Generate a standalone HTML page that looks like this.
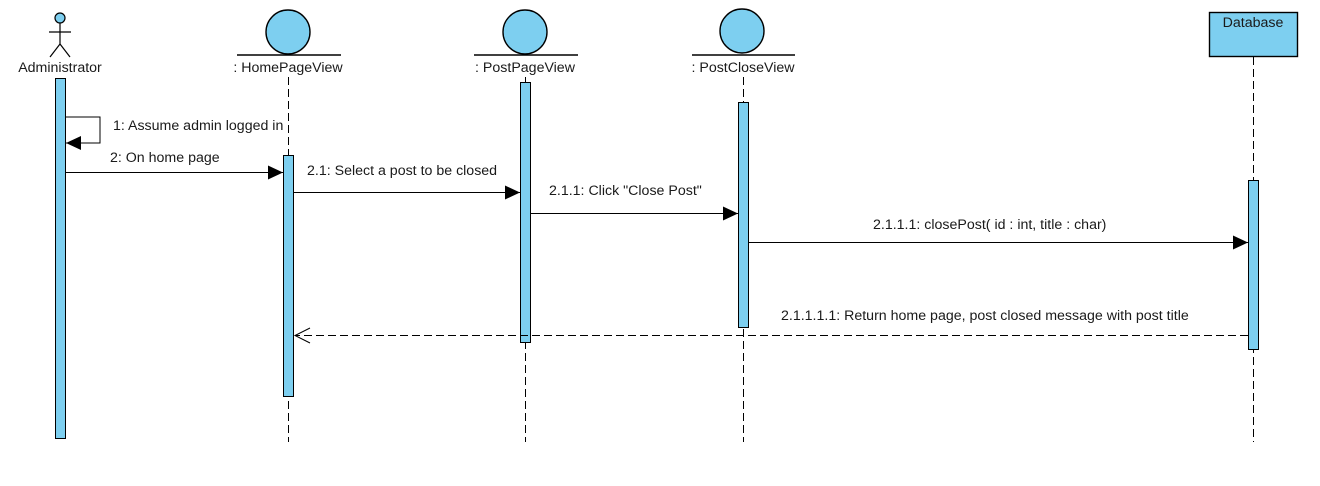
<!DOCTYPE html>
<html><head><meta charset="utf-8"><style>
html,body{margin:0;padding:0;background:#fff;width:1320px;height:486px;overflow:hidden}
svg text{font-family:"Liberation Sans",Arial,sans-serif;font-size:14.2px;fill:#1a1a1a}
</style></head><body>
<svg width="1320" height="486" xmlns="http://www.w3.org/2000/svg">
<defs>
<marker id="f" markerWidth="16" markerHeight="14" refX="15" refY="7" orient="auto" markerUnits="userSpaceOnUse"><path d="M0,0 L15,7 L0,14 Z" fill="#000"/></marker>
</defs>
<g stroke="#000" stroke-width="1" fill="none" stroke-dasharray="8,4">
<line x1="288.5" y1="77" x2="288.5" y2="442"/>
<line x1="525.5" y1="77" x2="525.5" y2="442"/>
<line x1="743.5" y1="77" x2="743.5" y2="442"/>
<line x1="1253.5" y1="57" x2="1253.5" y2="442"/>
</g>
<g stroke="#000" stroke-width="1.2" fill="none">
<circle cx="60" cy="18" r="5" fill="#7dcff0"/>
<line x1="60" y1="23" x2="60" y2="44"/>
<line x1="49" y1="32" x2="71" y2="32"/>
<line x1="60" y1="44" x2="50" y2="57"/>
<line x1="60" y1="44" x2="70" y2="57"/>
</g>
<text x="60" y="72" text-anchor="middle">Administrator</text>
<g stroke="#000" stroke-width="1.4" fill="#7dcff0">
<circle cx="288" cy="32" r="22"/>
<circle cx="525" cy="32" r="22"/>
<circle cx="742" cy="31" r="22"/>
<line x1="237" y1="55" x2="341" y2="55"/>
<line x1="474" y1="55" x2="578" y2="55"/>
<line x1="692" y1="55" x2="795" y2="55"/>
<rect x="1209.5" y="12.5" width="88" height="44"/>
</g>
<text x="288" y="72" text-anchor="middle">: HomePageView</text>
<text x="525" y="72" text-anchor="middle">: PostPageView</text>
<text x="743" y="72" text-anchor="middle">: PostCloseView</text>
<text x="1253" y="27" text-anchor="middle">Database</text>
<g stroke="#000" stroke-width="1" fill="#7dcff0">
<rect x="55.5" y="78.5" width="10" height="360"/>
<rect x="283.5" y="155.5" width="10" height="241"/>
<rect x="520.5" y="82.5" width="10" height="260"/>
<rect x="738.5" y="102.5" width="10" height="225"/>
<rect x="1248.5" y="180.5" width="10" height="169"/>
</g>
<g stroke="#000" stroke-width="1" fill="none">
<polyline points="66,117 100,117 100,143 66,143" marker-end="url(#f)"/>
<line x1="66" y1="172.5" x2="283" y2="172.5" marker-end="url(#f)"/>
<line x1="294" y1="192.5" x2="520" y2="192.5" marker-end="url(#f)"/>
<line x1="531" y1="213.5" x2="738" y2="213.5" marker-end="url(#f)"/>
<line x1="749" y1="242.5" x2="1248" y2="242.5" marker-end="url(#f)"/>
<line x1="1248" y1="335.5" x2="296" y2="335.5" stroke-dasharray="8,4"/>
<polyline points="310,328 295,335.5 310,343"/>
</g>
<text x="113" y="130">1: Assume admin logged in</text>
<text x="110" y="162">2: On home page</text>
<text x="307" y="175">2.1: Select a post to be closed</text>
<text x="549" y="195">2.1.1: Click "Close Post"</text>
<text x="873" y="229">2.1.1.1: closePost( id : int, title : char)</text>
<text x="781" y="320">2.1.1.1.1: Return home page, post closed message with post title</text>
</svg>
</body></html>
